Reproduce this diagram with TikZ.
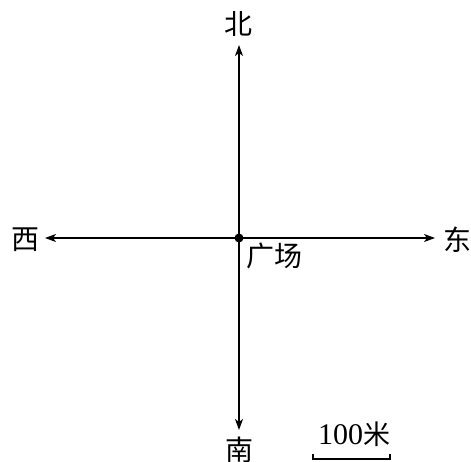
\documentclass[tikz,border=0pt]{standalone}
\usepackage{fontspec}
\setmainfont{Liberation Serif}
\newfontfamily\cjk{Noto Sans CJK SC}
\usetikzlibrary{arrows.meta}
\begin{document}
\begin{tikzpicture}[x=1pt,y=-1pt,
  axis/.style={line width=1.4pt,-{Stealth[length=11pt,width=8pt,inset=3pt]}},
  lbl/.style={font=\cjk\fontsize{28}{28}\selectfont,inner sep=0pt}]
\useasboundingbox (0,0) rectangle (471,461);
\coordinate (O) at (239,238);
\coordinate (N) at (239,45);
\coordinate (S) at (239,430);
\coordinate (W) at (45,238);
\coordinate (E) at (435,238);
\draw[axis] (O) -- (N);
\draw[axis] (O) -- (S);
\draw[axis] (O) -- (W);
\draw[axis] (O) -- (E);
\fill (O) circle (4.5pt);
\node[lbl] (nl) at (238,24) {北};
\node[lbl] (sl) at (239,450) {南};
\node[lbl] (wl) at (25,240) {西};
\node[lbl] (el) at (457,240) {东};
\node[lbl,anchor=north west] (gc) at (246,243) {广场};
\node[inner sep=0pt,font=\fontsize{30}{30}\selectfont] (sc) at (354,434) {100{\cjk\fontsize{27}{27}\selectfont 米}};
\coordinate (b1) at (313,454);
\coordinate (b2) at (390,454);
\draw[line width=1.2pt] (b1) -- ++(0,5) -| (b2);
\end{tikzpicture}
\end{document}
